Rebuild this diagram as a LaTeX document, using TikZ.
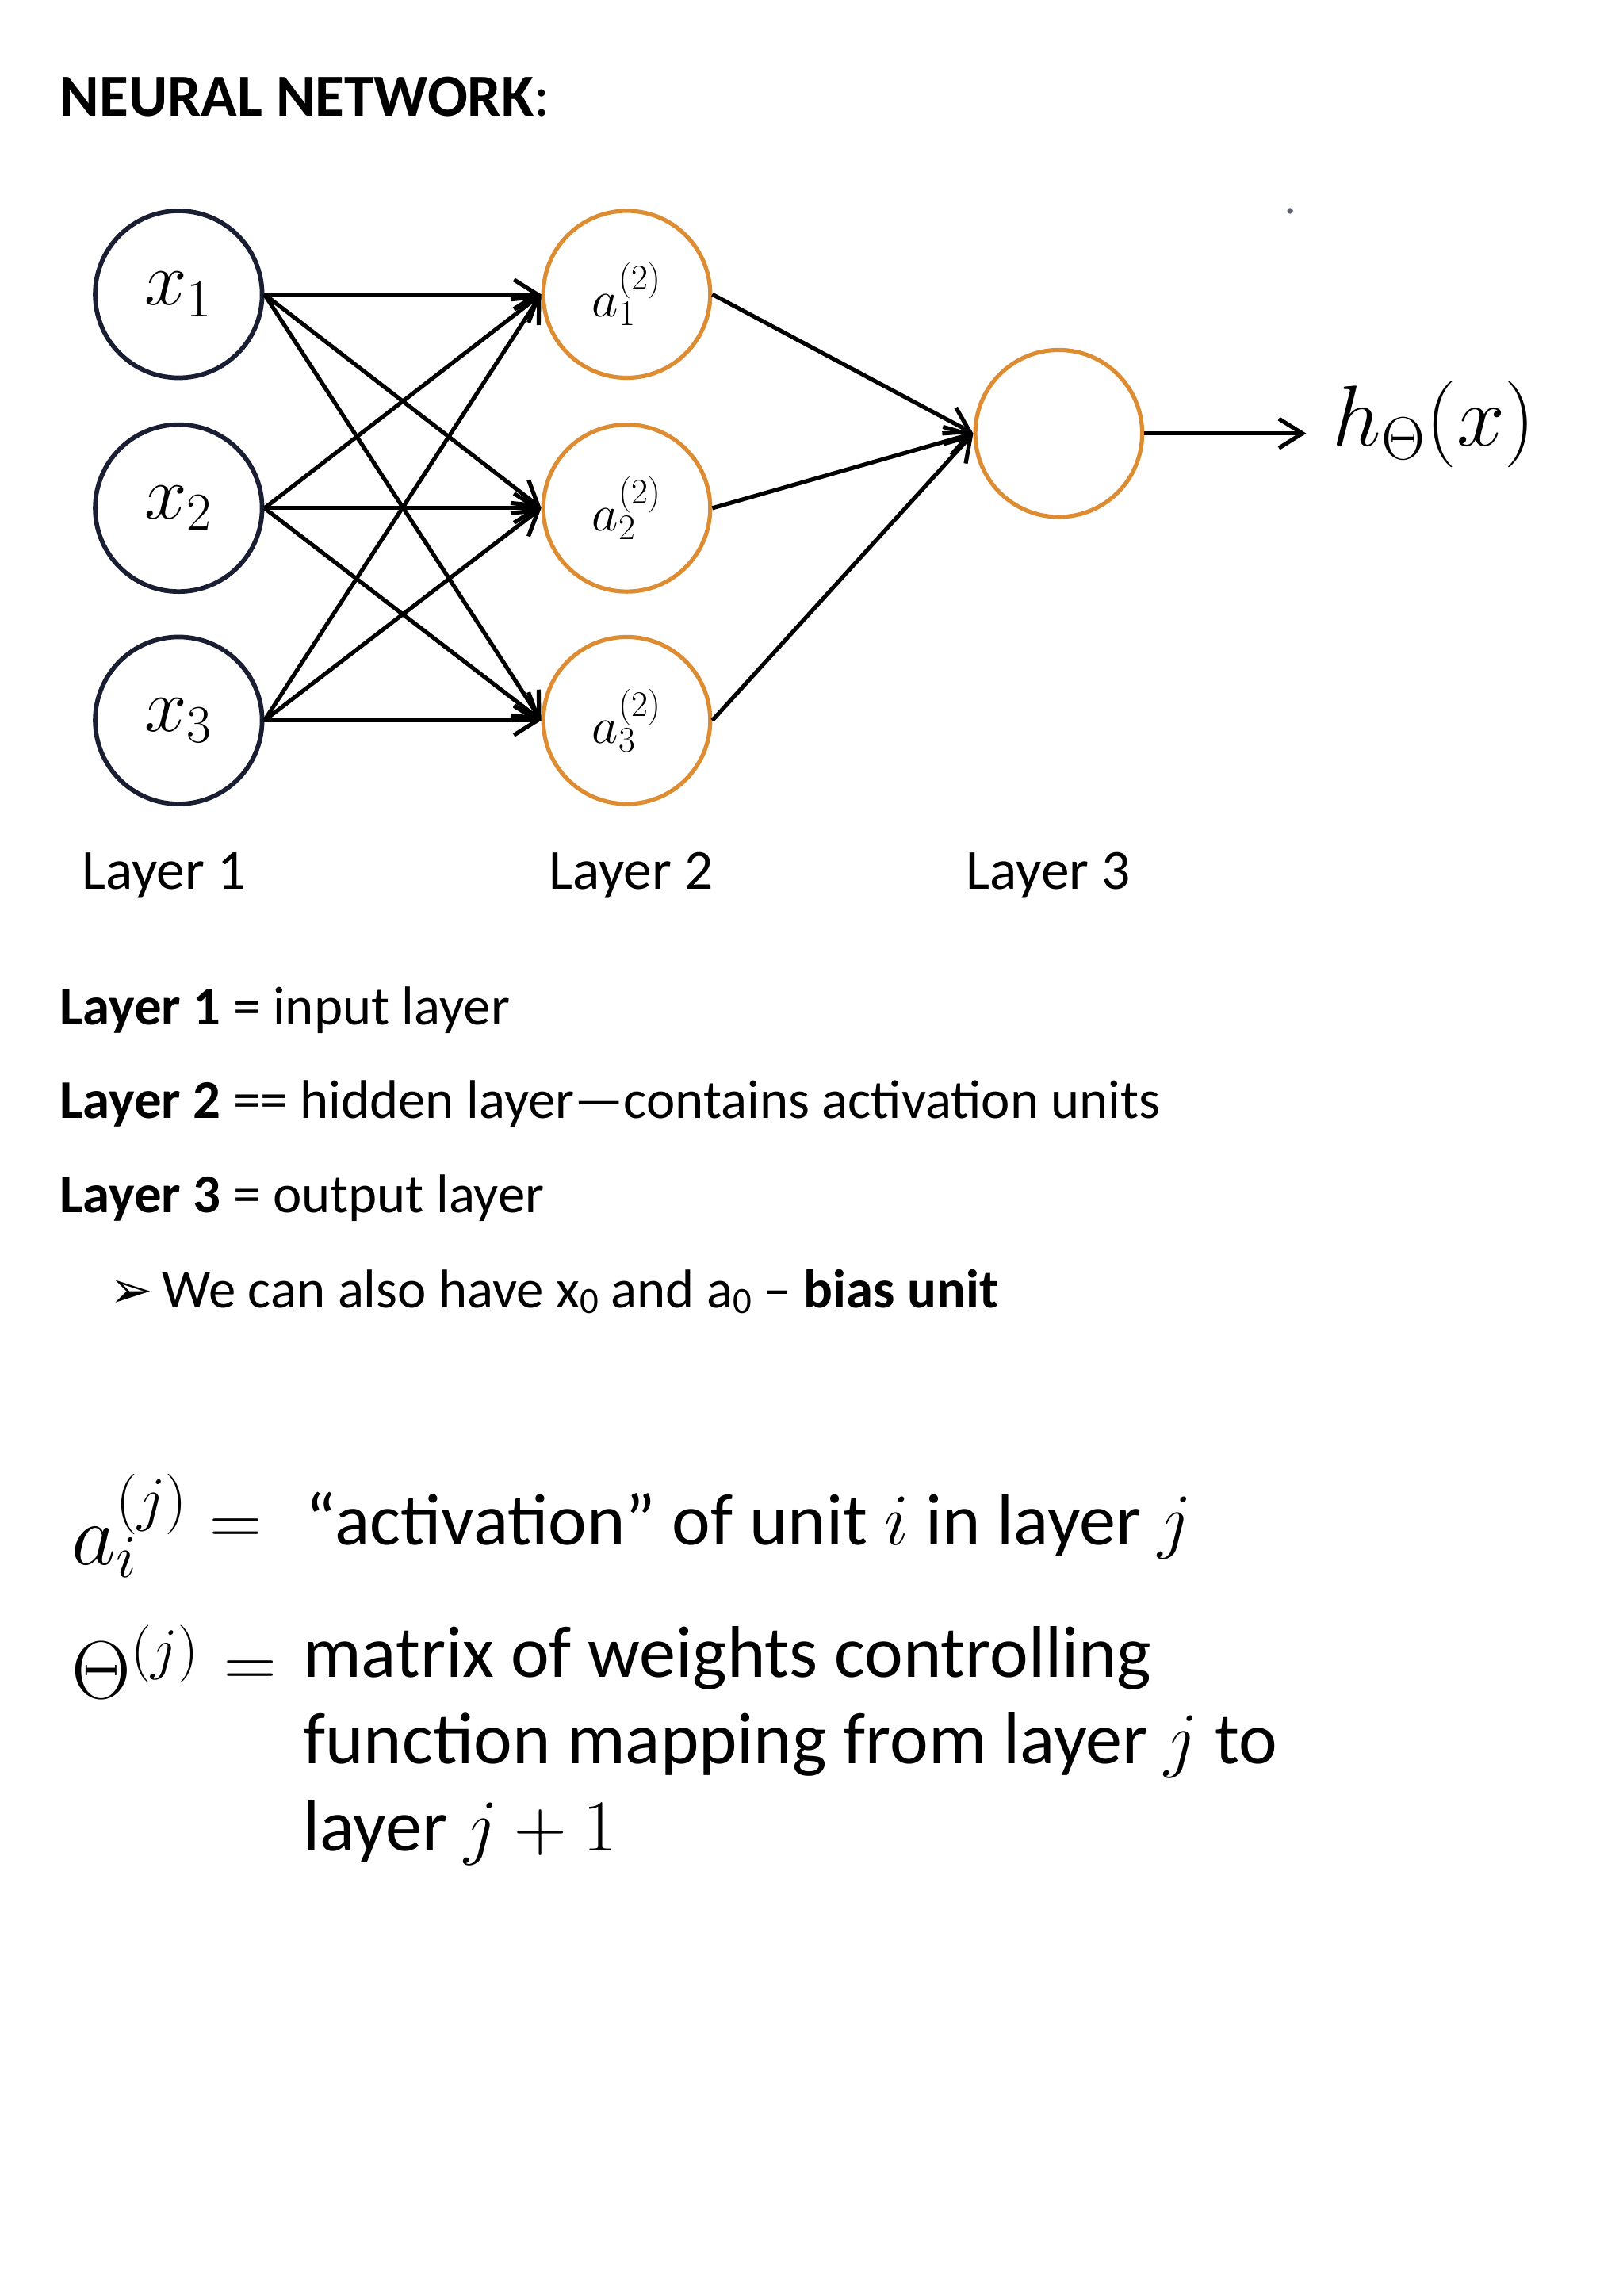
\documentclass[tikz,border=0pt]{standalone}
\RequirePackage{fix-cm}
\usepackage{fontspec}
\setmainfont{Carlito}
\newfontfamily\djv{DejaVu Sans}
\usetikzlibrary{arrows.meta}
\definecolor{navy}{RGB}{25,30,50}
\definecolor{org}{RGB}{222,140,50}
\begin{document}
\begin{tikzpicture}[x=0.25mm,y=-0.25mm,
 inp/.style={circle,draw=navy,line width=2.2pt,minimum size=28.5mm,inner sep=0pt,font=\fontsize{37}{42}\selectfont},
 hid/.style={circle,draw=org,line width=2pt,minimum size=28.5mm,inner sep=0pt,font=\fontsize{25}{30}\selectfont},
 con/.style={-{Straight Barb[length=4mm,width=5mm]},line width=2pt,black},
 lay/.style={anchor=center,font=\fontsize{27.5}{32}\selectfont},
 txt/.style={anchor=west,font=\fontsize{26.5}{31}\selectfont},
 big/.style={anchor=west,font=\fontsize{35.5}{42}\selectfont}]
\useasboundingbox (0,0) rectangle (1108,1568);
\fill[white] (0,0) rectangle (1108,1568);
\node[anchor=west,font=\fontsize{29}{34}\selectfont] (title) at (36,66) {\textbf{NEURAL NETWORK}:};
\node[inp] (x1) at (122,201) {$x_1$};
\node[inp] (x2) at (122,347) {$x_2$};
\node[inp] (x3) at (122,492) {$x_3$};
\node[hid] (a1) at (428,201) {$a^{(2)}_1$};
\node[hid] (a2) at (428,347) {$a^{(2)}_2$};
\node[hid] (a3) at (428,492) {$a^{(2)}_3$};
\node[hid] (o) at (723,296) {};
\coordinate (end) at (892,296);
\node[anchor=west,font=\fontsize{42}{48}\selectfont] (h) at (905,290) {$h_\Theta(x)$};
\foreach \i in {1,2,3}{\foreach \j in {1,2,3}{\draw[con] (x\i.east) -- (a\j.west);}}
\foreach \j in {1,2,3}{\draw[con] (a\j.east) -- (o.west);}
\draw[con] (o.east) -- (end);
\fill[navy!70] (881,144) circle (2);
\node[lay] (l1) at (112,598) {Layer 1};
\node[lay] (l2) at (431,598) {Layer 2};
\node[lay] (l3) at (716,598) {Layer 3};
\node[txt] (t1) at (36,690) {\textbf{Layer 1} = input layer};
\node[txt] (t2) at (36,754) {\textbf{Layer 2} == hidden layer---contains activation units};
\node[txt] (t3) at (36,818) {\textbf{Layer 3} = output layer};
\node[txt] (t4) at (70,882) {{\djv\fontsize{25}{28}\selectfont ➢}\,We can also have x{\fontsize{18}{20}\selectfont\raisebox{-3pt}{0}} and a{\fontsize{18}{20}\selectfont\raisebox{-3pt}{0}} -- \textbf{bias unit}};
\node[big,font=\fontsize{42}{48}\selectfont] (f1) at (44,1042) {$a_i^{(j)}$};
\node[big] (e1) at (138,1046) {$=$};
\node[big] (d1) at (204,1042) {``activation'' of unit $i$ in layer $j$};
\node[big,font=\fontsize{40}{46}\selectfont] (f2) at (44,1135) {$\Theta^{(j)}$};
\node[big] (e2) at (148,1143) {$=$};
\node[big,align=left,anchor=north west] (d2) at (202,1106) {matrix of weights controlling\\[0pt] function mapping from layer $j$ to\\[0pt] layer $j+1$};
\end{tikzpicture}
\end{document}
